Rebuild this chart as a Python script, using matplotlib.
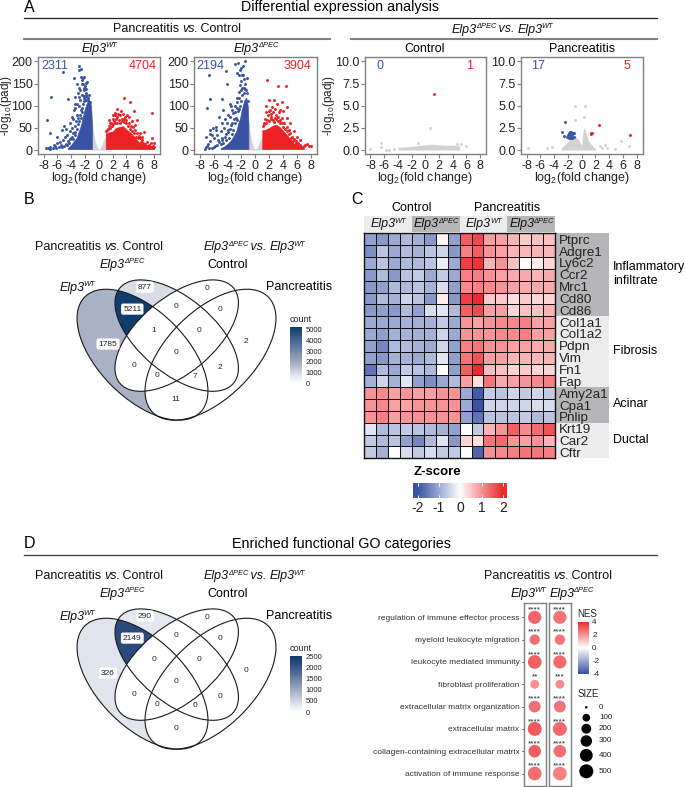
import numpy as np
import matplotlib
matplotlib.use('Agg')
import matplotlib.pyplot as plt
from matplotlib.colors import LinearSegmentedColormap, Normalize
from matplotlib.patches import Ellipse, Rectangle

plt.rcParams['font.family'] = ['Liberation Sans', 'DejaVu Sans']
plt.rcParams['mathtext.fontset'] = 'custom'
plt.rcParams['mathtext.rm'] = 'Liberation Sans'
plt.rcParams['mathtext.default'] = 'regular'
plt.rcParams['axes.unicode_minus'] = False

W, H = 685, 787
BLUE = '#3953a4'
RED = '#ed2024'
GREY = '#d2d2d2'
SPINE = '#7f7f7f'

# ---- panel A, volcano data
env_x_wt_blue = [-4.5, -4, -3.5, -3.2, -3, -2.7, -2.5, -2.2, -2, -1.7, -1.4, -1.2, -1.1, -1]
env_y_wt_blue = [4, 12, 22, 28, 38, 50, 62, 82, 95, 108, 112, 105, 92, 60]
env_x_wt_red = [1, 1.01, 1.5, 2, 2.5, 3, 3.5, 4, 4.5, 5, 5.5, 6, 6.5, 7, 7.5, 8]
env_y_wt_red = [2, 38, 40, 42, 50, 52, 54, 46, 40, 32, 22, 15, 12, 9, 8, 6]
wt_blue_x = [-2.8, -2.55, -2.9, -5.25, -3.6, -2.6, -1.7, -6.9, -4.4, -7.5, -3.4, -7, -5.4, -6, -4.1, -3.9, -3.4, -2.7,
             -7.7, -7.4, -7, -6.6, -6.3, -6, -5.8, -5.5, -5.2, -5, -4.8, -4.9, -4.6, -4.4, -4.2, -4, -3.9, -3.7, -3.5,
             -3.3, -3.1, -3, -2.8, -2.6, -2.4, -2.2, -2, -1.9, -1.7, -3.2, -2.9, -2.3, -2.1, -3.6, -3.8, -2.5, -2.2, -1.8,
             -3.4, -3.2, -3, -2.8, -2.7, -2.6, -2.5, -2.4, -2.3, -2.2, -2.1, -2, -1.9, -1.8, -1.6, -1.5, -1.4, -1.3,
             -4.6, -4.3, -4.1, -3.9, -3.7, -3.5, -5.4, -5.6, -6.2, -6.5, -7.1, -3.1, -2.9, -2.7, -2.5, -2.3, -2.1, -1.9,
             -3, -3.4, -4.7, -5]
wt_blue_y = [190, 184, 180, 176, 163, 164, 154, 119, 115, 68, 120, 38, 45, 30, 60, 75, 94, 113,
             5, 4, 6, 4, 9, 16, 6, 12, 22, 8, 14, 30, 35, 20, 42, 28, 50, 38, 55,
             66, 80, 72, 100, 90, 125, 135, 145, 128, 120, 150, 140, 150, 110, 90, 70, 158, 165, 112,
             40, 48, 58, 65, 78, 72, 85, 95, 105, 118, 122, 112, 138, 125, 118, 112, 125, 108,
             12, 16, 24, 30, 24, 34, 6, 18, 5, 12, 3, 105, 120, 135, 148, 162, 140, 152,
             128, 105, 48, 55]
wt_red_x = [3.7, 4.5, 2.6, 7.7, 5.15, 2.4, 3.8, 5.5, 1.6, 6.5, 7.7, 8, 7, 1.2, 1.4, 1.8, 2, 2.2, 2.6, 2.9, 3.1, 3.4,
            3.7, 4, 4.3, 4.6, 4.9, 5.2, 5.5, 5.8, 6, 6.3, 6.7, 7, 7.3, 7.6, 7.9, 8, 3.2, 4.1, 2.3,
            1.1, 1.3, 1.6, 1.9, 2.1, 2.4, 2.7, 3, 3.3, 3.6, 3.9, 4.2, 4.5, 4.8, 5.1, 5.4, 5.7, 6.1, 6.4, 6.8, 7.2, 7.5,
            2.5, 3.5, 2.8, 4.4, 1.5, 2.1, 4.8, 5.3, 6.2, 5.9]
wt_red_y = [117, 109, 92, 83, 88, 79, 75, 68, 60, 41, 26, 15, 19, 45, 55, 62, 70, 66, 75, 68, 78, 70,
            64, 68, 62, 55, 52, 45, 38, 32, 26, 22, 14, 9, 12, 16, 10, 7, 88, 78, 84,
            42, 48, 50, 55, 58, 62, 60, 62, 66, 70, 60, 55, 48, 44, 38, 30, 26, 18, 15, 10, 8, 7,
            70, 82, 82, 74, 68, 78, 65, 56, 30, 38]

env_x_ko_blue = [-5, -4.5, -4, -3.5, -3, -2.7, -2.5, -2.2, -2, -1.6, -1.3, -1.1, -1]
env_y_ko_blue = [4, 8, 14, 22, 35, 45, 58, 72, 88, 112, 118, 100, 60]
env_x_ko_red = [1, 1.01, 1.5, 2, 2.5, 3, 3.5, 4, 4.5, 5, 5.5, 6, 6.5, 7]
env_y_ko_red = [2, 45, 46, 50, 55, 57, 52, 43, 35, 25, 15, 12, 8, 6]
ko_blue_x = [-1.5, -2.9, -2.45, -4.2, -6.65, -1.75, -1.25, -4.15, -2.2, -6.55, -6.95, -4.85, -3.65, -3.2, -3.9, -6.55,
             -6.05, -5.6, -4.85, -4.4, -7.3, -7, -6.8, -6.5, -6.3, -6, -5.8, -5.5, -5.2, -5, -4.8, -4.5, -4.3, -4.1,
             -3.9, -3.7, -3.5, -3.3, -3.1, -2.9, -2.7, -2.5, -2.3, -2.2, -2, -1.9, -1.7, -1.5, -1.3, -7.1, -6.6, -6.2,
             -5.6, -2, -1.8, -2.4,
             -4.6, -4.2, -3.8, -3.4, -3.2, -3, -2.8, -2.6, -2.4, -2.1, -1.9, -1.7, -1.5, -1.2, -1.1, -5.5, -5, -6, -6.7,
             -7.1, -5.4, -4.8, -4.4, -4, -3.6, -3.4, -3, -2.6, -2.4, -2.7, -2.1, -1.6, -1.9, -2.6, -2.2, -3.5, -4.6, -5.2]
ko_blue_y = [200, 195, 197, 179, 169, 169, 162, 150, 147, 115, 94, 115, 105, 83, 79, 45,
             49, 53, 60, 71, 3, 8, 14, 20, 5, 26, 10, 33, 18, 42, 28, 50, 36, 62,
             45, 75, 56, 90, 70, 100, 118, 88, 130, 100, 155, 125, 140, 150, 135, 30, 36, 34,
             45, 185, 190, 170,
             16, 22, 28, 36, 46, 62, 72, 68, 92, 110, 140, 128, 138, 128, 110, 12, 14, 6, 4,
             7, 22, 22, 30, 40, 48, 62, 85, 108, 118, 95, 135, 160, 170, 175, 180, 100, 90, 75]
ko_red_x = [1.65, 3.3, 4.4, 1.9, 3.1, 4.5, 2.35, 3.55, 1.2, 1.4, 1.6, 1.8, 2.1, 2.3, 2.6, 2.8, 3, 3.3, 3.6, 3.9, 4.2,
            4.5, 4.8, 5, 5.3, 5.6, 5.9, 6.2, 6.5, 6.8, 7, 7.4, 7.7, 8, 2.7, 3.9,
            1.1, 1.3, 1.5, 1.7, 2, 2.2, 2.5, 2.7, 3, 3.2, 3.5, 3.8, 4, 4.3, 4.6, 4.9, 5.2, 5.5, 5.8, 6.1, 6.4,
            1.6, 1.9, 2.3, 2.9, 3.4, 4, 4.6, 5, 5.6, 6, 6.5, 7.2]
ko_red_y = [158, 144, 145, 113, 105, 98, 98, 90, 58, 70, 85, 78, 90, 75, 85, 72, 80, 75, 68, 72, 60,
            52, 45, 38, 30, 24, 20, 15, 12, 6, 10, 14, 9, 8, 112, 108,
            55, 62, 60, 68, 65, 70, 68, 64, 70, 66, 62, 60, 52, 48, 42, 36, 26, 20, 16, 12, 9,
            100, 88, 82, 92, 86, 88, 72, 60, 44, 30, 22, 12]

grey_x_pc = [-1, -0.8, -0.6, -0.4, -0.2, 0, 0.2, 0.4, 0.6, 0.8, 1]
grey_y_pc = [68, 45, 25, 12, 5, 2, 5, 10, 18, 25, 34]

env_x_ctrl = [-4, -3, -2, -1, 0, 1, 2, 3, 4, 5]
env_y_ctrl = [0.3, 0.35, 0.4, 0.5, 0.6, 0.65, 0.6, 0.55, 0.55, 0.45]
ctrl_grey_x = [-8, -6.4, -6.4, -5.8, -5.3, -4.6, -1.1, 0.67, 6, 5.25, 4.6]
ctrl_grey_y = [0.1, 0.75, 0.35, 0.05, 0.05, 0.1, 0.75, 2.5, 0.45, 0.65, 0.7]
ctrl_red_x = [1.2]
ctrl_red_y = [6.35]

env_x_pan = [-3, -2.5, -2, -1.5, -1, -0.5, 0, 0.2, 0.4, 0.6, 1, 1.5, 2]
env_y_pan = [0.2, 0.55, 0.95, 1.35, 1.6, 1.2, 0.5, 2.2, 2.6, 2, 1, 0.5, 0.15]
pan_grey_x = [-0.9, 0.45, -0.9, 0.3, -7.8, -5, -4.3, 3.4, 3.65, 4.9, 5.7, 6.9, 2.6, 2.95]
pan_grey_y = [4.95, 4.95, 3.4, 3.75, 0.25, 0.2, 0.3, 0.55, 0.2, 0.1, 1, 0.4, 0.5, 0.25]
pan_blue_x = [-2.35, -2.85, -2.5, -2.2, -1.8, -1.5, -1.65, -1.9, -1.4, -1.15, -1.3, -1.55, -2, -1.75, -1.1, -1.4, -1.7]
pan_blue_y = [3.15, 2.05, 1.6, 1.45, 1.9, 2.05, 1.5, 1.3, 1.7, 1.5, 1.95, 1.4, 1.7, 2.05, 1.9, 1.4, 1.7]
pan_red_x = [2.55, 1.35, 1.5, 6.95, 1.4]
pan_red_y = [2.8, 1.9, 1.95, 1.7, 1.8]

# ---- panel B / D, venn counts
venn_counts_b = [877, 5211, 1785, 0, 0, 0, 1, 0, 0, 2, 0, 2, 0, 7, 11]
venn_counts_d = [290, 2149, 326, 0, 0, 0, 0, 0, 0, 0, 0, 0, 0, 0, 0]
venn_ticks_b = [5000, 4000, 3000, 2000, 1000, 0]
venn_ticks_d = [2500, 2000, 1500, 1000, 500, 0]

# ---- panel C, heatmap z-scores
genes = ['Ptprc', 'Adgre1', 'Ly6c2', 'Ccr2', 'Mrc1', 'Cd80', 'Cd86', 'Col1a1', 'Col1a2', 'Pdpn', 'Vim', 'Fn1', 'Fap',
         'Amy2a1', 'Cpa1', 'Pnlip', 'Krt19', 'Car2', 'Cftr']
zscores = [
    [-1.1, -1.2, -1, -.8, -.9, -1.2, .1, -1.1, 1.5, 1.7, .9, .9, .7, .5, .6, .6],
    [-1.3, -.7, -1, -.8, -.9, -.7, -.5, -1.2, 1.2, 1.5, 1, .9, .7, .7, .7, .7],
    [-1, -.7, -1, -.8, -.8, -.7, -.2, -1, 1.8, 1.9, .7, 1, .6, 0, .2, .4],
    [-1.2, -.8, -1.2, -.7, -.6, -1, -.6, -1, 1.2, 1.2, 1, .9, .8, .8, .7, .8],
    [-1.2, -1.1, -.8, -.8, -.7, -.9, -.4, -1.1, 1.1, 1.2, 1.1, 1, .9, .8, .8, .8],
    [-1.2, -.8, -.9, -.5, -.7, -1.2, .2, -1.2, 1.8, 2, .5, .5, .3, .5, .4, .4],
    [-1.2, -1.1, -1.2, -.8, -1.1, -.4, -.3, -.8, 1.5, 1.7, .9, .9, .4, .6, .6, .7],
    [-1, -1, -1, -.9, -.9, -.9, -.6, -1, 1, .9, 1, 1.1, 1.1, 1.2, .9, .9],
    [-1, -1.1, -.9, -.9, -.9, -.9, -.5, -1, 1, 1, 1, 1.1, 1.1, 1.2, .9, .9],
    [-1.1, -1.4, -.8, -.8, -.9, -1, -.5, -1.1, 1.2, 1.3, 1, 1, .9, .9, .8, .8],
    [-1.1, -1.2, -.9, -.9, -1, -.8, -.3, -1.1, 1.3, 1.6, .9, .9, .7, .7, .7, .7],
    [-1.6, -.8, -1, -.6, -.7, -.8, 0, -1.1, 1.5, 2, .6, .6, .4, .5, .4, .4],
    [-.9, -.5, -.9, -.3, -1.1, -1.3, -1, -.8, .9, .3, 1.3, .8, .9, 1, 1.1, 1.2],
    [1, 1.1, .9, 1, .9, .9, 1, 1, -1, -1.9, -.6, -.7, -.5, -.6, -.5, -.6],
    [1, 1.1, .9, .9, 1, 1, 1, 1, -1, -2, -.5, -.5, -.5, -.5, -.4, -.4],
    [1, 1.2, .9, 1, 1, 1, 1, 1, -1.1, -1.6, -.7, -.7, -.7, -.6, -.8, -.7],
    [-.3, -.8, -.7, -.6, -.7, -.8, -.9, -1.1, 0, -.6, .7, 1, 1.5, 1.1, 1.4, 1.6],
    [-.6, -.8, -.7, -1.1, -1.4, -.8, -.3, -1.2, .4, .3, 1.3, 1.4, 1, .9, 1, .7],
    [-.6, -.9, 0, -.4, -.6, -.4, -.6, -.6, 0, -1.8, 1, 1.1, 1.2, 1.3, 1.3, 1.2],
]
z_ticks = [-2, -1, 0, 1, 2]

# ---- panel D, dot plot
go_terms = ['regulation of immune effector process', 'myeloid leukocyte migration', 'leukocyte mediated immunity',
            'fibroblast proliferation', 'extracellular matrix organization', 'extracellular matrix',
            'collagen-containing extracellular matrix', 'activation of immune response']
nes_wt = [2.9, 2.7, 3.0, 2.1, 2.7, 3.1, 3.0, 2.7]
nes_ko = [2.6, 2.6, 2.8, 2.1, 2.6, 2.8, 2.7, 2.4]
size_wt = [430, 230, 470, 150, 330, 500, 380, 470]
size_ko = [430, 230, 430, 150, 330, 500, 380, 470]
stars_wt = ['****', '****', '****', '**', '****', '****', '****', '****']
stars_ko = ['****', '****', '****', '***', '****', '****', '****', '****']
size_legend = [0, 100, 200, 300, 400, 500]
nes_ticks = [4, 2, 0, -2, -4]

# pieces of mixed text: (string, italic, relative size, rise)
WT = [('Elp3', True, 1, 0), ('WT', True, 0.6, 0.38)]
KO = [('Elp3', True, 1, 0), ('\u0394PEC', True, 0.6, 0.38)]
PVC = [('Pancreatitis ', False, 1, 0), ('vs.', True, 1, 0), (' Control', False, 1, 0)]
KVW = KO + [(' vs. ', True, 1, 0)] + WT

fig = plt.figure(figsize=(W / 100, H / 100), dpi=100)
bg = fig.add_axes([0, 0, 1, 1])
bg.set_xlim(0, W)
bg.set_ylim(H, 0)
bg.axis('off')
renderer = fig.canvas.get_renderer()


def px_axes(x0, y0, x1, y1):
    return fig.add_axes([x0 / W, 1 - y1 / H, (x1 - x0) / W, (y1 - y0) / H])


def label(x, y, s, size=9, ha='center', **kw):
    bg.text(x, y, s, fontsize=size, ha=ha, va='center', **kw)


def rich(xc, y, pieces, size=9):
    # centred run of text with italics and superscripts
    drawn = []
    for txt, ital, rel, rise in pieces:
        t = bg.text(0, y - rise * size * 100 / 72, txt, fontsize=size * rel, va='baseline', ha='left',
                    style='italic' if ital else 'normal', color='#111111')
        drawn.append(t)
    widths = [t.get_window_extent(renderer).width - 1 for t in drawn]
    x = xc - sum(widths) / 2
    for t, w in zip(drawn, widths):
        t.set_x(x)
        x += w


def volcano(box, ylim, yticks, n_down, n_up, down_x=0.025, up_x=0.973, ylabel_x=None):
    ax = px_axes(*box)
    ax.set_xlim(-8.8, 8.85)
    ax.set_ylim(*ylim)
    ax.set_xticks(range(-8, 9, 2))
    ax.set_yticks(yticks)
    ax.set_yticklabels(['%.1f' % t if ylim[1] < 20 else '%d' % t for t in yticks])
    ax.tick_params(labelsize=9, length=3, width=0.8, color=SPINE, pad=1, labelcolor='#222222')
    for s in ax.spines.values():
        s.set_color(SPINE)
        s.set_linewidth(1)
    ax.set_xlabel(r'log$_2$(fold change)', fontsize=9, labelpad=-1, color='#222222')
    if ylabel_x is not None:
        ax.set_ylabel(r'-log$_{10}$(padj)', fontsize=8.5, color='#222222')
        ax.yaxis.set_label_coords(ylabel_x, 0.5)
    ax.text(down_x, 0.907, n_down, transform=ax.transAxes, color=BLUE, fontsize=9, va='center')
    ax.text(up_x, 0.907, n_up, transform=ax.transAxes, color=RED, fontsize=9, va='center', ha='right')
    return ax


def dots(ax, x, y, c, s=4.5):
    ax.scatter(x, y, s=s, c=c, linewidths=0, zorder=3)


# panel A
y_big = [0, 50, 100, 150, 200]
y_small = [0, 2.5, 5, 7.5, 10]
a1 = volcano((38, 57, 160, 154), (-9, 210), y_big, '2311', '4704', ylabel_x=-0.198)
a2 = volcano((194.3, 57, 316.7, 154), (-9, 210), y_big, '2194', '3904', down_x=0.02, up_x=0.96)
a3 = volcano((365, 57, 486, 154), (-0.45, 10.5), y_small, '0', '1', down_x=0.095, up_x=0.897, ylabel_x=-0.23)
a4 = volcano((521, 57, 642.7, 154), (-0.45, 10.5), y_small, '17', '5', down_x=0.08, up_x=0.90)

for ax, ex_b, ey_b, ex_r, ey_r, bx, by, rx, ry in [
        (a1, env_x_wt_blue, env_y_wt_blue, env_x_wt_red, env_y_wt_red, wt_blue_x, wt_blue_y, wt_red_x, wt_red_y),
        (a2, env_x_ko_blue, env_y_ko_blue, env_x_ko_red, env_y_ko_red, ko_blue_x, ko_blue_y, ko_red_x, ko_red_y)]:
    ax.fill_between(grey_x_pc, 0, grey_y_pc, color=GREY, lw=0)
    ax.fill_between(ex_b, 2, ey_b, color=BLUE, lw=0.5, zorder=2)
    ax.fill_between(ex_r, 2, ey_r, color=RED, lw=0.5, zorder=2)
    dots(ax, bx, by, BLUE)
    dots(ax, rx, ry, RED)

a3.fill_between(env_x_ctrl, 0, env_y_ctrl, color=GREY, lw=0)
dots(a3, ctrl_grey_x, ctrl_grey_y, GREY)
dots(a3, ctrl_red_x, ctrl_red_y, RED)
a4.fill_between(env_x_pan, 0, env_y_pan, color=GREY, lw=0)
dots(a4, pan_grey_x, pan_grey_y, GREY)
dots(a4, pan_blue_x, pan_blue_y, BLUE)
dots(a4, pan_red_x, pan_red_y, RED)

label(24, 8, 'A', 11.5, ha='left')
label(340.5, 7.5, 'Differential expression analysis', 10.3)
bg.plot([24, 657], [17.5, 17.5], color='#222222', lw=0.9)
rich(176.7, 32.5, PVC)
rich(502, 32.5, KVW)
bg.plot([24, 330], [39, 39], color='#808080', lw=1.5)
bg.plot([351, 657], [39, 39], color='#808080', lw=1.5)
rich(99, 52, WT)
rich(255.7, 52, KO)
label(425, 48.5, 'Control')
label(582, 48.5, 'Pancreatitis')


# panels B and D, the venn diagrams
def venn(dy, counts, ticks, cmap, vmax):
    outer_a = dict(xy=(142.5, 153.3 + dy), width=163.3, height=87.3, angle=45)
    outer_d = dict(xy=(210.5, 153.3 + dy), width=163.3, height=87.3, angle=-45)
    inner_b = dict(xy=(176.7, 134.2 + dy), width=148.3, height=75.3, angle=40)
    inner_c = dict(xy=(176.7, 134.2 + dy), width=148.3, height=75.3, angle=-40)
    norm = Normalize(0, vmax)

    patch_a = Ellipse(**outer_a, fc=cmap(norm(counts[2])), ec='none')
    bg.add_patch(patch_a)
    bg.add_patch(Ellipse(**inner_b, fc=cmap(norm(counts[0])), ec='none'))
    both = Ellipse(**inner_b, fc=cmap(norm(counts[1])), ec='none')
    bg.add_patch(both)
    both.set_clip_path(patch_a)
    for e in (inner_c, outer_d):
        bg.add_patch(Ellipse(**e, fc='white', ec='none'))
    for e in (outer_a, outer_d, inner_b, inner_c):
        bg.add_patch(Ellipse(**e, fc='none', ec='#1a1a1a', lw=0.8))

    cx = [145, 132.3, 108, 207, 176.3, 219.7, 153.7, 199.3, 176.3, 245.7, 134, 220, 157.3, 195.3, 176]
    cy = [85.7, 107.7, 142.7, 86.7, 104.7, 107.7, 129, 129, 151, 140.3, 164, 165.7, 174.3, 175, 198]
    for x, y, n, idx in zip(cx, cy, counts, range(15)):
        if idx < 3:
            bg.text(x, y + dy, str(n), fontsize=6, ha='center', va='center', color='#222222',
                    bbox=dict(boxstyle='round,pad=0.25', fc='white', ec='none'))
        else:
            bg.text(x, y + dy, str(n), fontsize=6, ha='center', va='center', color='#222222')

    rich(98.7, 49 + dy, PVC)
    rich(254, 49 + dy, KVW)
    rich(121.7, 66.8 + dy, KO)
    label(228, 63.3 + dy, 'Control')
    rich(77, 89.2 + dy, WT)
    label(299, 85.7 + dy, 'Pancreatitis')

    label(290, 117.7 + dy, 'count', 6.5, ha='left', color='#222222')
    cb = px_axes(290, 126 + dy, 301.7, 181.7 + dy)
    grad = np.linspace(1, 0, 128).reshape(-1, 1)
    cb.imshow(grad, aspect='auto', cmap=cmap, vmin=0, vmax=1, extent=(0, 1, 0, vmax))
    cb.set_xticks([])
    cb.yaxis.tick_right()
    cb.set_yticks(ticks)
    cb.tick_params(labelsize=5.5, length=0, pad=3, labelcolor='#222222')
    cb.set_ylim(0, vmax * 1.0)
    for s in cb.spines.values():
        s.set_visible(False)


venn_cmap_b = LinearSegmentedColormap.from_list('b', [(0, '#ffffff'), (0.17, '#d7dce7'), (0.34, '#a9b1c6'), (1, '#0f3d6e')])
venn_cmap_d = LinearSegmentedColormap.from_list('d', [(0, '#ffffff'), (0.13, '#e0e4ed'), (0.86, '#2c4a7c'), (1, '#0f3d6e')])
venn(201.4, venn_counts_b, venn_ticks_b, venn_cmap_b, 5211)
venn(530.4, venn_counts_d, venn_ticks_d, venn_cmap_d, 2500)

label(24, 199, 'B', 11.5, ha='left')
label(24, 544, 'D', 11.5, ha='left')
label(341, 544, 'Enriched functional GO categories', 10.3)
bg.plot([24, 657], [554.7, 554.7], color='#444444', lw=1)

# panel C
heat_cmap = LinearSegmentedColormap.from_list('z', [BLUE, '#ffffff', '#ee2a2f'])
hx0, hx1, hy0, hy1 = 364.3, 555, 233.3, 458.3
hm = px_axes(hx0, hy0, hx1, hy1)
hm.pcolormesh(np.array(zscores), cmap=heat_cmap, vmin=-2, vmax=2, edgecolors='#111111', linewidth=0.7)
hm.set_xlim(0, 16)
hm.set_ylim(len(genes), 0)
hm.set_xticks([])
hm.yaxis.tick_right()
hm.set_yticks(np.arange(len(genes)) + 0.5)
hm.set_yticklabels(genes)
hm.tick_params(length=0, labelsize=9.7, pad=3, labelcolor='#222222')
for s in hm.spines.values():
    s.set_color('#111111')
    s.set_linewidth(1)

LIGHT = '#ececec'
DARK = '#b6b6b8'
row_h = (hy1 - hy0) / len(genes)
for x0, x1, col, txt in [(364.3, 411.7, LIGHT, WT), (411.7, 460, DARK, KO), (460, 507, LIGHT, WT), (507, 555, DARK, KO)]:
    bg.add_patch(Rectangle((x0, 215.7), x1 - x0, 16, fc=col, ec='none'))
    rich((x0 + x1) / 2, 227.5, txt, 9)
for r0, r1, col in [(0, 7, DARK), (7, 13, LIGHT), (13, 16, DARK), (16, 19, LIGHT)]:
    bg.add_patch(Rectangle((555, hy0 + r0 * row_h), 54, (r1 - r0) * row_h, fc=col, ec='none'))
label(411.7, 208, 'Control')
label(507, 208, 'Pancreatitis')
label(351, 199, 'C', 11.5, ha='left')
label(613, 266.7, 'Inflammatory', 9, ha='left')
label(613, 281, 'infiltrate', 9, ha='left')
label(613, 351, 'Fibrosis', 9, ha='left')
label(613, 404, 'Acinar', 9, ha='left')
label(613, 440, 'Ductal', 9, ha='left')
label(437, 471.7, 'Z-score', 9.5, fontweight='bold')

zb = px_axes(413.3, 482.7, 507.3, 498.3)
zb.imshow(np.linspace(-2.2, 2.2, 200).reshape(1, -1), aspect='auto', cmap=heat_cmap, vmin=-2, vmax=2,
          extent=(-2.2, 2.2, 0, 1))
zb.set_yticks([])
zb.set_xticks(z_ticks)
zb.tick_params(length=0, labelsize=10, pad=2, labelcolor='#222222')
zb.vlines(z_ticks, 0, 0.18, color='white', lw=0.7)
zb.vlines(z_ticks, 0.82, 1, color='white', lw=0.7)
zb.set_ylim(0, 1)
for s in zb.spines.values():
    s.set_visible(False)

# panel D dot plot
nes_cmap = LinearSegmentedColormap.from_list('nes', [BLUE, '#ffffff', '#ee2a2f'])
rows = np.arange(len(go_terms))


def size_to_area(v):
    d_px = (8 + 34 * np.sqrt(np.asarray(v, dtype=float) / 500)) / 3
    return (d_px * 0.72) ** 2


for box, nes, sizes, stars in [((523.7, 603.3, 545.7, 786), nes_wt, size_wt, stars_wt),
                               ((548.7, 603.3, 571, 786), nes_ko, size_ko, stars_ko)]:
    ax = px_axes(*box)
    ax.scatter([0] * len(rows), rows, s=size_to_area(sizes), c=nes, cmap=nes_cmap, vmin=-4, vmax=4, linewidths=0)
    for r, st in zip(rows, stars):
        ax.text(0, r - 0.33, st, fontsize=6, ha='center', va='center', color='#222222')
    ax.set_xlim(-0.5, 0.5)
    ax.set_ylim(7.56, -0.628)
    ax.set_xticks([])
    ax.set_yticks([])
    for s in ax.spines.values():
        s.set_color(SPINE)
        s.set_linewidth(1)
    if nes is nes_wt:
        ax.set_yticks(rows)
        ax.set_yticklabels(go_terms)
        ax.tick_params(axis='y', labelsize=6.05, length=1.5, width=0.6, pad=1.5, labelcolor='#333333', color='#333333')

rich(547.7, 579, PVC)
rich(528, 597, WT)
rich(571, 597, KO)

label(577.7, 614, 'NES', 7, ha='left', color='#222222')
nb = px_axes(577.7, 622, 588, 673.7)
nb.imshow(np.linspace(4, -4, 200).reshape(-1, 1), aspect='auto', cmap=nes_cmap, vmin=-4, vmax=4, extent=(0, 1, -4, 4))
nb.set_xticks([])
nb.yaxis.tick_right()
nb.set_yticks(nes_ticks)
nb.tick_params(length=0, labelsize=5.8, pad=3, labelcolor='#222222')
for s in nb.spines.values():
    s.set_visible(False)

label(577.7, 694, 'SIZE', 7, ha='left', color='#222222')
leg_y = [707.3, 717.7, 728.7, 741, 755.3, 771.3]
bg.scatter([586.3] * 6, leg_y, s=size_to_area(size_legend), c='black', linewidths=0)
for y, v in zip(leg_y, size_legend):
    label(599, y, str(v), 5.8, ha='left', color='#222222')

fig.savefig('out.png', dpi=100)
